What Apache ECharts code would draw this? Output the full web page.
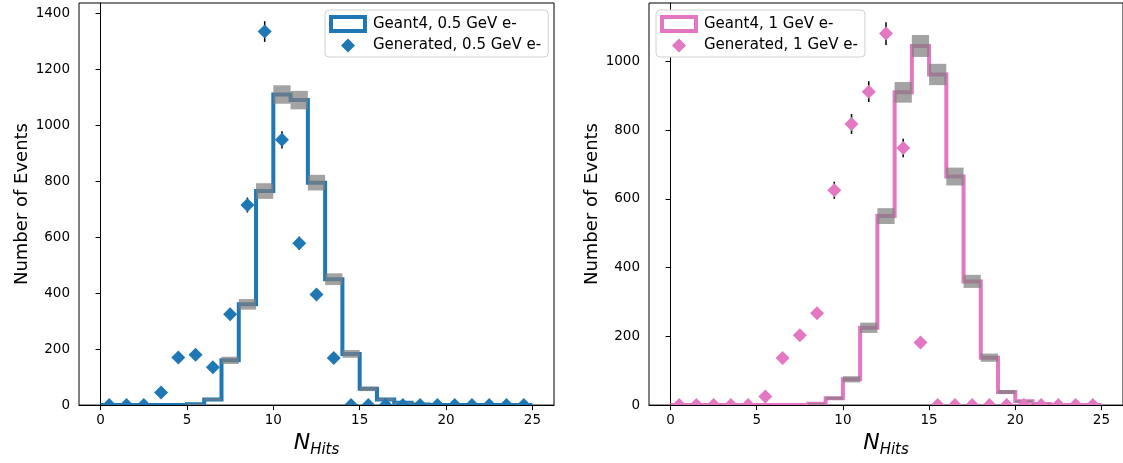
<!DOCTYPE html>
<html>
<head>
<meta charset="utf-8">
<script src="https://cdn.jsdelivr.net/npm/echarts@6/dist/echarts.min.js"></script>
<style>
  html, body { margin: 0; padding: 0; background: #fff; }
  #chart { width: 1123px; height: 463px; }
</style>
</head>
<body>
<div id="chart"></div>
<script>
// Histogram bins: unit-width bins from 0 to 25 hits, indexed by bin centre
const binCenters = [0.5, 1.5, 2.5, 3.5, 4.5, 5.5, 6.5, 7.5, 8.5, 9.5, 10.5, 11.5, 12.5,
                    13.5, 14.5, 15.5, 16.5, 17.5, 18.5, 19.5, 20.5, 21.5, 22.5, 23.5, 24.5];
const xTicks = [0, 5, 10, 15, 20, 25];

// 0.5 GeV electrons
const geant4Low = [0, 0, 0, 0, 0, 3, 20, 160, 360, 765, 1110, 1090, 795,
                   450, 183, 58, 20, 8, 2, 0, 0, 0, 0, 0, 0];
const geant4LowErr = [0, 0, 0, 0, 0, 2, 4, 13, 19, 28, 33, 33, 28,
                      21, 14, 8, 4, 3, 1, 0, 0, 0, 0, 0, 0];
const generatedLow = [0, 0, 0, 45, 170, 180, 135, 325, 715, 1335, 948, 578, 395,
                      168, 0, 0, 0, 0, 0, 0, 0, 0, 0, 0, 0];
const generatedLowErr = [0, 0, 0, 7, 13, 13, 12, 18, 27, 37, 31, 24, 20,
                         13, 0, 0, 0, 0, 0, 0, 0, 0, 0, 0, 0];
const yTicksLow = [0, 200, 400, 600, 800, 1000, 1200, 1400];

// 1 GeV electrons
const geant4High = [0, 0, 0, 0, 0, 0, 0, 0, 4, 20, 75, 225, 550,
                    910, 1045, 962, 665, 360, 138, 38, 11, 3, 0, 0, 0];
const geant4HighErr = [0, 0, 0, 0, 0, 0, 0, 0, 2, 4, 9, 15, 23,
                       30, 32, 31, 26, 19, 12, 6, 3, 2, 0, 0, 0];
const generatedHigh = [0, 0, 0, 0, 0, 25, 137, 203, 267, 625, 818, 912, 1081,
                       748, 182, 0, 0, 0, 0, 0, 0, 0, 0, 0, 0];
const generatedHighErr = [0, 0, 0, 0, 0, 5, 12, 14, 16, 25, 29, 30, 33,
                          27, 13, 0, 0, 0, 0, 0, 0, 0, 0, 0, 0];
const yTicksHigh = [0, 200, 400, 600, 800, 1000];

const BLUE = '#1f77b4';
const PINK = '#e377c2';
const FONT = 'DejaVu Sans';
const DIAMOND = 'path://M0,-1L1,0L0,1L-1,0Z';
const MARKER_HALF = 7;

function panelSeries(idx, names, color, g4, g4Err, gen, genErr) {
  return [
    {
      // Step outline of the Geant4 histogram, clipped exactly at the plot frame
      name: names[0], type: 'custom', xAxisIndex: idx, yAxisIndex: idx, clip: true, z: 2, silent: true,
      itemStyle: { color: color },
      data: [0],
      renderItem: (params, api) => {
        const last = binCenters.length - 1;
        const pts = [api.coord([binCenters[0] - 0.5, 0])];
        g4.forEach((h, i) => {
          pts.push(api.coord([binCenters[i] - 0.5, h]));
          pts.push(api.coord([binCenters[i] + 0.5, h]));
        });
        pts.push(api.coord([binCenters[last] + 0.5, 0]));
        return {
          type: 'polyline',
          shape: { points: pts },
          style: { stroke: color, lineWidth: 4, fill: null, lineJoin: 'miter' }
        };
      },
      animation: false
    },
    {
      // Uncertainty band on each Geant4 bin
      type: 'custom', xAxisIndex: idx, yAxisIndex: idx, clip: true, z: 3, silent: true,
      data: binCenters.map((c, i) => [c, g4[i], g4Err[i]]),
      renderItem: (params, api) => {
        const c = api.value(0), h = api.value(1), e = api.value(2);
        if (h <= 0) return null;
        const p1 = api.coord([c - 0.5, h + e]);
        const p2 = api.coord([c + 0.5, h - e]);
        return {
          type: 'rect',
          shape: { x: p1[0], y: p1[1], width: p2[0] - p1[0], height: Math.max(p2[1] - p1[1], 1.5) },
          style: { fill: 'rgba(128,128,128,0.72)' }
        };
      },
      animation: false
    },
    {
      // Error bars on generated points
      type: 'custom', xAxisIndex: idx, yAxisIndex: idx, clip: true, z: 4, silent: true,
      data: binCenters.map((c, i) => [c, gen[i], genErr[i]]),
      renderItem: (params, api) => {
        const c = api.value(0), v = api.value(1), e = api.value(2);
        if (e <= 0) return null;
        const a = api.coord([c, v - e]);
        const b = api.coord([c, v + e]);
        return {
          type: 'line',
          shape: { x1: a[0], y1: a[1], x2: b[0], y2: b[1] },
          style: { stroke: '#000', lineWidth: 1.5 }
        };
      },
      animation: false
    },
    {
      // Generated points as diamonds, cut off at the frame like the outline
      name: names[1], type: 'custom', xAxisIndex: idx, yAxisIndex: idx, clip: true, z: 5, silent: true,
      itemStyle: { color: color },
      data: binCenters.map((c, i) => [c, gen[i]]),
      renderItem: (params, api) => {
        const p = api.coord([api.value(0), api.value(1)]);
        const r = MARKER_HALF;
        return {
          type: 'polygon',
          shape: { points: [[p[0], p[1] - r], [p[0] + r, p[1]], [p[0], p[1] + r], [p[0] - r, p[1]]] },
          style: { fill: color }
        };
      },
      animation: false
    }
  ];
}

const axisText = { color: '#000', fontFamily: FONT, fontSize: 13.5 };

function xAxis(idx) {
  return {
    type: 'value', gridIndex: idx, min: -1.25, max: 26.25,
    axisLine: { onZero: false, lineStyle: { color: '#000', width: 1 } },
    axisTick: { show: true, length: 5, lineStyle: { color: '#000', width: 1 }, customValues: xTicks },
    axisLabel: Object.assign({ margin: 8, customValues: xTicks, formatter: v => String(v) }, axisText),
    splitLine: { show: false },
    name: '{n|N}{s|Hits}', nameLocation: 'middle', nameGap: 20,
    nameTextStyle: {
      color: '#000',
      rich: {
        n: { fontFamily: FONT, fontStyle: 'italic', fontSize: 22, color: '#000', lineHeight: 26, verticalAlign: 'top' },
        s: { fontFamily: FONT, fontStyle: 'italic', fontSize: 15, color: '#000', lineHeight: 26, verticalAlign: 'bottom' }
      }
    }
  };
}

function yAxis(idx, max, ticks) {
  return {
    type: 'value', gridIndex: idx, min: 0, max: max,
    axisLine: { show: true, lineStyle: { color: '#000', width: 1 } },
    axisTick: { show: true, length: 5, lineStyle: { color: '#000', width: 1 }, customValues: ticks },
    axisLabel: Object.assign({ margin: 9, customValues: ticks, formatter: v => String(v) }, axisText),
    splitLine: { show: false },
    name: 'Number of Events', nameLocation: 'middle', nameRotate: 90, nameGap: 47,
    nameTextStyle: { color: '#000', fontFamily: FONT, fontSize: 18 }
  };
}

function legend(left, names, color) {
  return {
    left: left, top: 10, orient: 'vertical',
    backgroundColor: '#fff', borderColor: '#d0d0d0', borderWidth: 1, borderRadius: 4,
    padding: [5, 7, 4, 4], itemGap: 5, itemWidth: 34, itemHeight: 14,
    symbolKeepAspect: true,
    textStyle: { color: '#000', fontFamily: FONT, fontSize: 15, padding: [0, 0, 0, 3] },
    selectedMode: false,
    data: [
      { name: names[0], icon: 'rect', itemStyle: { color: '#fff', borderColor: color, borderWidth: 4 } },
      { name: names[1], icon: DIAMOND, itemStyle: { color: color, borderWidth: 0 } }
    ]
  };
}

const namesLow = ['Geant4, 0.5 GeV e-', 'Generated, 0.5 GeV e-'];
const namesHigh = ['Geant4, 1 GeV e-', 'Generated, 1 GeV e-'];

const chart = echarts.init(document.getElementById('chart'), null, { renderer: 'canvas' });
chart.setOption({
  animation: false,
  backgroundColor: '#fff',
  grid: [
    { left: 79, top: 3, width: 475, height: 406, show: true, borderColor: '#000', borderWidth: 1, backgroundColor: 'transparent' },
    { left: 649, top: 3, width: 476, height: 406, show: true, borderColor: '#000', borderWidth: 1, backgroundColor: 'transparent' }
  ],
  xAxis: [xAxis(0), xAxis(1)],
  yAxis: [yAxis(0, 1437, yTicksLow), yAxis(1, 1170, yTicksHigh)],
  legend: [legend(325, namesLow, BLUE), legend(656, namesHigh, PINK)],
  series: [
    ...panelSeries(0, namesLow, BLUE, geant4Low, geant4LowErr, generatedLow, generatedLowErr),
    ...panelSeries(1, namesHigh, PINK, geant4High, geant4HighErr, generatedHigh, generatedHighErr)
  ]
});
</script>
</body>
</html>
